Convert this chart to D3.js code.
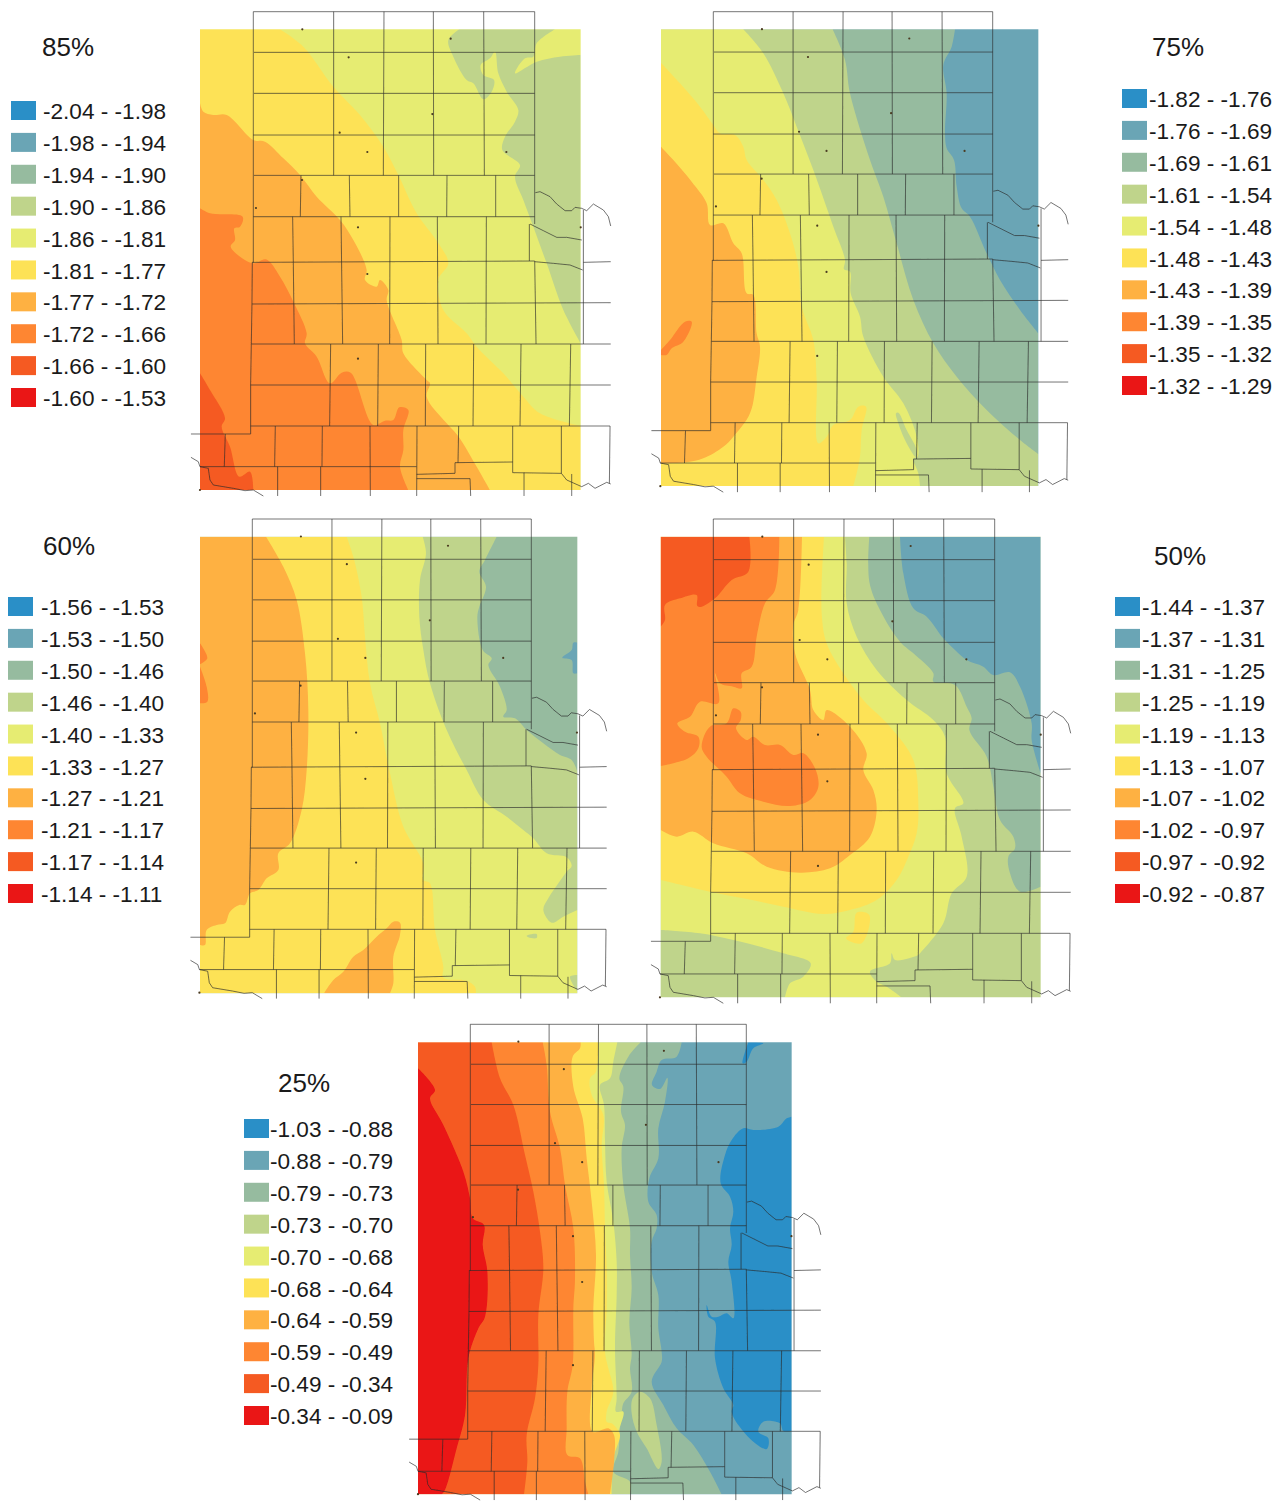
<!DOCTYPE html>
<html>
<head>
<meta charset="utf-8">
<script src="https://cdn.jsdelivr.net/npm/d3@7"></script>
<style>
  html, body { margin: 0; background: #fff; }
  text { font-family: "Liberation Sans", Arial, sans-serif; fill: #1a1a1a; }
</style>
</head>
<body>
<svg id="chart" width="1285" height="1504"></svg>
<script>
// classes run blue -> red, same ramp in all five maps
const classColors = ["#2b8fc7", "#6aa5b5", "#96bb9f", "#bfd48b", "#e6ec72", "#fde257", "#feb142", "#fe8630", "#f55a22", "#ea1216"];

const breaks85 = [-2.04, -1.98, -1.94, -1.90, -1.86, -1.81, -1.77, -1.72, -1.66, -1.60, -1.53];
const breaks75 = [-1.82, -1.76, -1.69, -1.61, -1.54, -1.48, -1.43, -1.39, -1.35, -1.32, -1.29];
const breaks60 = [-1.56, -1.53, -1.50, -1.46, -1.40, -1.33, -1.27, -1.21, -1.17, -1.14, -1.11];
const breaks50 = [-1.44, -1.37, -1.31, -1.25, -1.19, -1.13, -1.07, -1.02, -0.97, -0.92, -0.87];
const breaks25 = [-1.03, -0.88, -0.79, -0.73, -0.70, -0.68, -0.64, -0.59, -0.49, -0.34, -0.09];

const zones85 = [
  [3, [[808,88],[775,120],[790,170],[830,240],[850,250],[880,298],[905,275],[912,240],[880,225],[872,195],[900,175],[915,155],[925,220],[950,275],[985,330],[975,365],[945,410],[937,450],[990,495],[975,530],[1000,600],[1030,680],[1070,790],[1120,930],[1172,1030],[1172,165],[1110,170],[1040,185],[975,220],[1005,175],[1030,170],[1040,130],[1095,88]]],
  [5, [[30,88],[270,88],[340,140],[430,260],[510,345],[580,440],[625,525],[680,640],[745,730],[775,790],[745,840],[760,930],[830,1000],[860,1040],[940,1120],[1000,1190],[1050,1240],[1172,1278],[1172,1470],[30,1470]]],
  [6, [[30,310],[40,335],[70,345],[110,345],[190,420],[225,425],[280,475],[330,525],[380,590],[450,660],[490,720],[530,810],[525,840],[560,860],[570,840],[595,870],[590,900],[635,1020],[640,1060],[710,1140],[720,1150],[710,1190],[770,1270],[806,1310],[860,1400],[900,1470],[30,1470]]],
  [7, [[30,625],[60,640],[158,650],[150,680],[133,685],[135,720],[122,740],[188,790],[228,778],[270,830],[310,905],[350,1000],[345,1030],[380,1070],[420,1150],[455,1118],[482,1118],[550,1275],[585,1262],[610,1260],[628,1222],[655,1230],[640,1290],[640,1350],[630,1400],[655,1470],[30,1470]]],
  [8, [[30,1120],[60,1170],[105,1255],[95,1280],[120,1340],[148,1430],[180,1415],[190,1470],[30,1470]]]
];
const zones75 = [
  [2, [[33,88],[915,88],[905,140],[880,195],[890,280],[885,400],[890,445],[912,480],[920,560],[935,625],[960,650],[1010,760],[1050,840],[1110,930],[1165,1000],[1165,1458],[33,1458]]],
  [3, [[33,88],[548,88],[585,180],[600,280],[660,480],[700,590],[740,730],[790,900],[850,1030],[920,1130],[1010,1230],[1110,1320],[1165,1362],[1165,1458],[33,1458]]],
  [4, [[33,88],[280,88],[340,160],[400,280],[440,380],[490,510],[550,680],[585,780],[582,808],[600,815],[602,880],[630,950],[640,1010],[700,1130],[760,1210],[800,1310],[803,1370],[790,1375],[805,1420],[810,1458],[33,1458]]],
  [3, [[738,1240],[745,1238],[770,1290],[800,1350],[798,1372],[765,1320],[745,1270]]],
  [5, [[33,188],[90,250],[150,320],[190,375],[210,400],[255,405],[280,440],[290,480],[340,540],[380,600],[420,700],[445,800],[455,920],[490,1020],[500,1140],[505,1330],[530,1310],[550,1275],[600,1260],[625,1220],[648,1220],[635,1290],[630,1370],[620,1420],[610,1458],[33,1458]]],
  [6, [[33,440],[70,480],[125,545],[170,610],[180,675],[220,670],[250,730],[275,760],[290,880],[310,885],[320,1000],[330,1040],[320,1130],[300,1240],[250,1310],[220,1340],[160,1375],[110,1387],[33,1390]]],
  [7, [[33,1050],[60,1020],[105,965],[125,965],[100,1025],[65,1045],[50,1065],[33,1065]]]
];
const zones60 = [
  [1, [[1117,443],[1145,420],[1150,398],[1162,398],[1162,490],[1150,490],[1145,450]]],
  [3, [[30,80],[920,80],[885,150],[868,185],[888,230],[868,290],[862,320],[878,420],[905,445],[895,465],[930,530],[950,600],[940,620],[975,625],[1010,660],[1060,700],[1110,735],[1145,750],[1162,785],[1162,1450],[30,1450]]],
  [4, [[30,80],[698,80],[708,130],[690,210],[688,320],[700,420],[720,520],[770,660],[830,780],[880,870],[950,920],[1000,960],[1030,985],[1070,1030],[1130,1042],[1145,1068],[1130,1085],[1105,1120],[1075,1165],[1060,1200],[1085,1238],[1120,1220],[1162,1200],[1162,1395],[1140,1400],[1162,1445],[1162,1450],[30,1450]]],
  [3, [[1010,1277],[1040,1272],[1040,1284],[1015,1282]]],
  [5, [[30,80],[470,80],[490,140],[515,260],[525,380],[540,520],[570,640],[600,790],[640,950],[700,1060],[700,1110],[720,1120],[735,1260],[760,1370],[760,1403],[830,1412],[855,1430],[858,1450],[30,1450]]],
  [6, [[30,80],[228,80],[280,170],[320,270],[345,430],[355,600],[350,780],[335,900],[300,1000],[265,1030],[265,1080],[230,1105],[205,1140],[180,1150],[165,1185],[148,1185],[120,1205],[105,1240],[80,1245],[50,1260],[45,1305],[30,1305]]],
  [6, [[402,1450],[430,1410],[460,1385],[490,1340],[520,1320],[560,1280],[590,1255],[610,1235],[630,1238],[630,1275],[610,1340],[610,1420],[600,1450]]],
  [7, [[30,400],[52,445],[30,463]]],
  [7, [[30,470],[50,530],[52,575],[30,580]]]
];
const zones50 = [
  [2, [[658,80],[658,215],[690,300],[750,395],[790,430],[850,490],[850,515],[915,525],[950,590],[965,625],[958,660],[1010,740],[1030,830],[1050,930],[1090,980],[1095,1015],[1075,1040],[1080,1090],[1110,1145],[1172,1130],[1172,80]]],
  [1, [[750,80],[760,190],[790,295],[830,320],[880,385],[915,420],[950,450],[1000,470],[1030,495],[1080,487],[1110,530],[1145,640],[1145,690],[1172,790],[1172,80]]],
  [4, [[32,80],[585,80],[590,160],[590,280],[620,380],[680,480],[770,570],[850,630],[885,680],[890,790],[940,880],[915,895],[935,980],[950,1100],[905,1150],[880,1240],[810,1330],[805,1335],[735,1350],[725,1330],[720,1360],[660,1385],[680,1415],[710,1430],[755,1462],[405,1462],[420,1420],[460,1400],[482,1360],[400,1330],[250,1290],[150,1270],[32,1260]]],
  [5, [[32,80],[522,80],[515,310],[530,400],[580,490],[640,570],[720,650],[790,750],[805,880],[800,970],[775,1040],[740,1110],[680,1170],[600,1200],[520,1212],[400,1190],[280,1165],[180,1145],[32,1110]]],
  [5, [[620,1208],[658,1215],[635,1300],[588,1285],[610,1265]]],
  [6, [[32,80],[456,80],[445,300],[430,345],[435,430],[480,540],[490,600],[520,630],[530,600],[600,650],[650,730],[640,780],[670,840],[680,900],[660,980],[600,1035],[540,1075],[450,1088],[350,1070],[290,1030],[190,1000],[130,965],[80,980],[32,960]]],
  [7, [[32,80],[388,80],[375,240],[345,280],[320,380],[305,470],[275,490],[275,535],[250,530],[210,520],[195,490],[205,580],[150,575],[120,620],[82,640],[105,665],[145,680],[145,715],[115,745],[32,768]]],
  [7, [[180,650],[230,640],[250,595],[272,605],[272,630],[258,655],[290,690],[310,680],[345,705],[390,705],[430,735],[460,730],[495,775],[505,830],[480,870],[420,888],[340,875],[270,850],[230,800],[170,740],[155,710]]],
  [8, [[32,80],[298,80],[295,185],[245,210],[195,265],[155,290],[142,288],[140,255],[90,265],[45,285],[45,330],[32,350]]]
];
const zones25 = [
  [0, [[1145,305],[1130,310],[1105,335],[1030,345],[1000,340],[965,375],[945,420],[932,505],[960,545],[970,590],[960,640],[965,690],[955,740],[965,800],[970,910],[950,895],[925,905],[905,905],[890,870],[895,905],[915,920],[915,1030],[940,1120],[970,1170],[965,1190],[985,1230],[1030,1280],[1070,1302],[1075,1270],[1045,1250],[1060,1220],[1110,1225],[1120,1248],[1145,1248]]],
  [0, [[1015,82],[1060,85],[1030,100],[1010,140],[998,145]]],
  [2, [[24,82],[815,82],[800,125],[755,135],[740,170],[726,210],[750,222],[772,188],[765,260],[745,340],[745,430],[718,490],[715,560],[740,600],[740,640],[725,680],[725,770],[745,840],[745,940],[755,1010],[755,1040],[725,1100],[760,1170],[800,1240],[850,1290],[900,1370],[935,1438],[24,1438]]],
  [3, [[24,82],[692,82],[655,125],[628,190],[640,215],[633,290],[645,330],[635,400],[640,510],[660,640],[660,720],[665,820],[658,920],[665,1020],[660,1060],[665,1130],[640,1165],[635,1195],[630,1240],[625,1310],[610,1370],[660,1400],[660,1438],[24,1438]]],
  [3, [[668,1150],[690,1130],[720,1150],[740,1230],[755,1340],[745,1362],[710,1300],[680,1250],[665,1195]]],
  [4, [[24,82],[622,82],[610,140],[600,190],[570,210],[582,270],[585,380],[590,500],[610,620],[620,740],[620,840],[615,1000],[620,1150],[618,1190],[640,1190],[625,1250],[615,1290],[605,1340],[600,1438],[24,1438]]],
  [5, [[24,82],[565,82],[558,170],[540,190],[545,240],[580,300],[575,390],[582,510],[585,640],[590,760],[590,880],[585,1010],[595,1060],[610,1130],[590,1190],[590,1220],[605,1225],[620,1240],[630,1260],[610,1330],[605,1438],[24,1438]]],
  [6, [[24,82],[512,82],[510,100],[488,125],[490,215],[518,310],[530,430],[545,560],[558,720],[550,880],[552,980],[555,1020],[545,1120],[548,1250],[595,1240],[612,1260],[612,1340],[600,1438],[24,1438]]],
  [7, [[24,82],[398,82],[410,150],[420,290],[450,400],[465,510],[490,640],[495,790],[490,880],[488,1050],[472,1130],[470,1240],[472,1320],[510,1330],[525,1400],[535,1438],[24,1438]]],
  [8, [[24,82],[245,82],[270,190],[310,270],[345,420],[370,530],[390,650],[400,760],[385,900],[385,1050],[375,1150],[350,1260],[352,1340],[342,1438],[24,1438]]],
  [9, [[24,160],[75,225],[60,250],[100,330],[160,470],[180,550],[188,610],[222,630],[218,690],[232,770],[225,905],[205,940],[175,1030],[165,1200],[140,1300],[105,1425],[95,1438],[24,1438]]]
];

// county lines and rivers, in one shared map grid
const countyLines = [
  [[190,35],[1034,35],[1034,672]], [[190,35],[190,787],[187,787],[186,913],[184,1033],[182,1155],[182,1302],[3,1302]],
  [[192,157],[1034,157]], [[192,280],[1034,280]], [[190,405],[1034,405]], [[192,526],[1034,526]], [[190,650],[1034,650]],
  [[188,787],[1034,783]], [[186,912],[1262,908]], [[184,1032],[1262,1032]], [[182,1155],[1262,1155]], [[182,1278],[1260,1278],[1258,1450]],
  [[431,35],[431,526]], [[582,35],[580,526]], [[730,35],[731,526]], [[881,35],[883,526]],
  [[333,526],[331,650]], [[478,526],[480,650]], [[626,526],[626,650]], [[771,526],[770,650]], [[917,526],[917,650]],
  [[308,650],[310,787],[313,1032]], [[453,650],[458,1032]], [[600,650],[599,1032]], [[742,650],[744,1032]], [[889,650],[888,1032]], [[1018,672],[1018,783]], [[1034,783],[1038,1032]],
  [[422,1032],[419,1278]], [[565,1032],[563,1278]], [[707,1032],[706,1278]], [[851,1032],[849,1278]], [[993,1032],[990,1278]], [[1142,1032],[1138,1278]],
  [[106,1302],[103,1400]], [[256,1278],[254,1400]], [[397,1278],[396,1400]], [[540,1278],[541,1488]], [[681,1278],[680,1488]], [[806,1278],[804,1388]], [[968,1278],[968,1418]], [[1114,1278],[1114,1420]],
  [[30,1400],[680,1400]], [[263,1400],[263,1488]], [[392,1400],[392,1488]],
  [[680,1423],[795,1420],[795,1388],[968,1386]], [[968,1418],[1114,1420]], [[680,1436],[840,1436],[842,1488]], [[1002,1418],[1002,1488]], [[1145,1422],[1145,1488]],
  [[1180,630],[1180,1032]], [[1180,787],[1262,785]],
  [[1036,578],[1050,575],[1080,590],[1100,612],[1125,632],[1145,632],[1155,622],[1175,625],[1190,632],[1210,612],[1240,630],[1255,650],[1262,678]],
  [[1020,672],[1060,692],[1100,712],[1130,712],[1175,720]],
  [[1034,785],[1090,790],[1140,795],[1178,810]],
  [[3,1372],[25,1385],[30,1400],[55,1405],[60,1440],[70,1455],[130,1465],[165,1472],[190,1470],[220,1488]],
  [[1114,1420],[1130,1440],[1175,1460],[1195,1450],[1215,1465],[1250,1447],[1262,1452]]
];
const stations = [[337,88],[476,172],[782,116],[727,342],[449,398],[532,456],[949,456],[336,540],[198,624],[504,682],[532,822],[504,1076],[1172,682],[30,1470]];

const gridX = [190, 1034], gridY = [35, 1278];

// page placement of each map; crop is the origin the zones were traced from (3x px)
const panels = [
  { title: "85%", breaks: breaks85, zones: zones85, base: 4, crop: [190, 0], raster: [30, 88, 1172, 1470], frame: [253.3, 534.7, 11.7, 426], titlePos: [68, 47], swatchX: 11, textX: 43, rowY: 111 },
  { title: "75%", breaks: breaks75, zones: zones75, base: 1, crop: [650, 0], raster: [33, 88, 1165, 1458], frame: [713.3, 992.7, 11.7, 422.7], titlePos: [1178, 46.5], swatchX: 1122, textX: 1149, rowY: 99 },
  { title: "60%", breaks: breaks60, zones: zones60, base: 2, crop: [190, 510], raster: [30, 80, 1162, 1450], frame: [252.3, 531.3, 519, 929.3], titlePos: [69, 546], swatchX: 8, textX: 41, rowY: 607 },
  { title: "50%", breaks: breaks50, zones: zones50, base: 3, crop: [650, 510], raster: [32, 80, 1172, 1462], frame: [713.3, 994.7, 519, 933.3], titlePos: [1180, 556], swatchX: 1115, textX: 1142, rowY: 607 },
  { title: "25%", breaks: breaks25, zones: zones25, base: 1, crop: [410, 1015], raster: [24, 82, 1145, 1438], frame: [470.3, 746.3, 1024.3, 1431.3], titlePos: [304, 1083], swatchX: 244, textX: 270, rowY: 1129 }
];

const svg = d3.select("#chart");
const classColor = d3.scaleOrdinal().domain(d3.range(10)).range(classColors);

const defs = svg.append("defs");
defs.append("filter").attr("id", "soft")
  .append("feGaussianBlur").attr("stdDeviation", 0.5);

// contours are curved, but stay straight along the raster edge so corners don't get cut
function zonePath(pts, raster, zx, zy) {
  const [x0, y0, x1, y1] = raster;
  const onEdge = p => p[0] <= x0 + 1 || p[0] >= x1 - 1 || p[1] <= y0 + 1 || p[1] >= y1 - 1;
  const start = pts.findIndex(onEdge);
  if (start < 0) {
    return d3.line().x(d => zx(d[0])).y(d => zy(d[1])).curve(d3.curveCatmullRomClosed.alpha(0.5))(pts);
  }
  const open = d3.line().x(d => zx(d[0])).y(d => zy(d[1])).curve(d3.curveCatmullRom.alpha(0.5));
  const ring = [...pts.slice(start), ...pts.slice(0, start), pts[start]];
  let d = `M${zx(ring[0][0])},${zy(ring[0][1])}`;
  let run = [ring[0]];
  ring.slice(1).forEach(p => {
    run.push(p);
    if (onEdge(p)) {
      d += open(run).replace(/^M/, "L");
      run = [p];
    }
  });
  return d + "Z";
}

panels.forEach((p, pi) => {
  // traced zones go through the crop scales
  const zx = d3.scaleLinear().domain([0, 3]).range([p.crop[0], p.crop[0] + 1]);
  const zy = d3.scaleLinear().domain([0, 3]).range([p.crop[1], p.crop[1] + 1]);
  // base map goes through the frame scales
  const mx = d3.scaleLinear().domain(gridX).range([p.frame[0], p.frame[1]]);
  const my = d3.scaleLinear().domain(gridY).range([p.frame[2], p.frame[3]]);

  const [rx0, ry0, rx1, ry1] = p.raster;
  defs.append("clipPath").attr("id", "clip" + pi).append("rect")
    .attr("x", zx(rx0)).attr("y", zy(ry0))
    .attr("width", zx(rx1) - zx(rx0)).attr("height", zy(ry1) - zy(ry0));

  const mapLine = d3.line().x(d => mx(d[0])).y(d => my(d[1]));

  const raster = svg.append("g").attr("clip-path", `url(#clip${pi})`)
    .append("g").attr("filter", "url(#soft)");
  raster.append("rect")
    .attr("x", zx(rx0) - 4).attr("y", zy(ry0) - 4)
    .attr("width", zx(rx1) - zx(rx0) + 8).attr("height", zy(ry1) - zy(ry0) + 8)
    .attr("fill", classColor(p.base));
  raster.selectAll("path").data(p.zones).join("path")
    .attr("d", d => zonePath(d[1], p.raster, zx, zy))
    .attr("fill", d => classColor(d[0]));

  const lines = svg.append("g").attr("filter", "url(#soft)");
  lines.selectAll("path").data(countyLines).join("path")
    .attr("d", mapLine)
    .attr("fill", "none")
    .attr("stroke", "#2a2a2a")
    .attr("stroke-opacity", 0.65)
    .attr("stroke-width", 1);
  lines.selectAll("circle").data(stations).join("circle")
    .attr("cx", d => mx(d[0])).attr("cy", d => my(d[1]))
    .attr("r", 1.1).attr("fill", "#4a3a20");

  svg.append("text").attr("x", p.titlePos[0]).attr("y", p.titlePos[1])
    .attr("text-anchor", "middle").attr("dy", "0.36em")
    .attr("font-size", 26).text(p.title);

  const row = d3.scaleLinear().domain([0, 9]).range([p.rowY, p.rowY + 287]);
  const rows = d3.range(10);
  svg.append("g").selectAll("rect").data(rows).join("rect")
    .attr("x", p.swatchX).attr("y", i => row(i) - 10)
    .attr("width", 25).attr("height", 19)
    .attr("filter", "url(#soft)")
    .attr("fill", i => classColor(i));
  svg.append("g").selectAll("text").data(rows).join("text")
    .attr("x", p.textX).attr("y", i => row(i))
    .attr("dy", "0.36em").attr("font-size", 22.6)
    .text(i => `${p.breaks[i].toFixed(2)} - ${p.breaks[i + 1].toFixed(2)}`);
});
</script>
</body>
</html>
